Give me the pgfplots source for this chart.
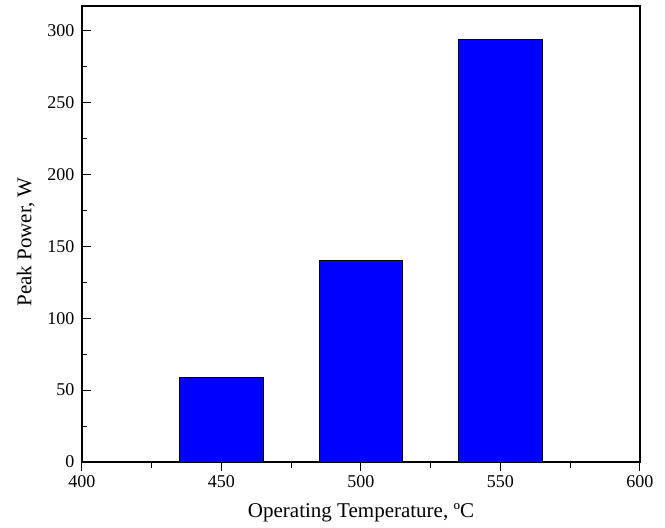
\documentclass[border=0pt]{standalone}
\usepackage{fontspec}
\setmainfont{Liberation Serif}
\usepackage{pgfplots}
\pgfplotsset{compat=1.18}
\begin{document}
\begin{tikzpicture}
\begin{axis}[
  at={(0pt,0pt)}, anchor=south west,
  scale only axis,
  width=558pt, height=456pt,
  xmin=400, xmax=600, ymin=0, ymax=317,
  xtick={400,450,...,600}, ytick={0,50,...,300},
  minor xtick={425,475,525,575},
  minor ytick={25,75,...,275},
  tick align=inside,
  xtick pos=bottom, ytick pos=left,
  major tick length=9pt, minor tick length=5.5pt,
  tick style={black, line width=1pt},
  axis line style={line width=1.2pt},
  ticklabel style={font=\fontsize{18}{20}\selectfont},
  /pgf/number format/assume math mode=true,
  xticklabel style={yshift=-1pt},
  yticklabel style={xshift=-4pt},
  xlabel={Operating Temperature, ºC},
  ylabel={Peak Power, W},
  label style={font=\fontsize{21}{24}\selectfont},
  xlabel style={yshift=-9pt},
  ylabel style={yshift=6pt, xshift=-8pt},
  ybar, bar width=30,
]
\addplot[fill={rgb,255:red,0;green,0;blue,255}, draw=black, line width=0.8pt]
  coordinates {(450,58.5) (500,140) (550,294)};
\end{axis}
\useasboundingbox (-82pt,-66pt) rectangle (583pt,462pt);
\end{tikzpicture}
\end{document}
